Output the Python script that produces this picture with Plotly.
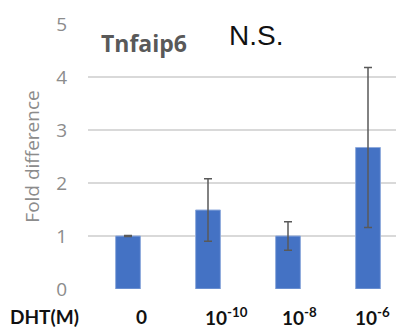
import plotly.graph_objects as go

categories = ["0", "10^-10", "10^-8", "10^-6"]
tick_labels = ["0", "10<sup>-10</sup>", "10<sup>-8</sup>", "10<sup>-6</sup>"]
fold_diff = [1.0, 1.49, 1.0, 2.67]
err = [0.01, 0.59, 0.27, 1.51]
label_shift = [13, -5, -8, -15]
label_anchor = ["center", "left", "left", "left"]

# page body has an 8px default margin; figure is sized to fit the 404x328 window
W, H = 396, 320
ML, MT, MB, MR = 80, 16, 39, 0
PW = W - ML - MR

fig = go.Figure()
fig.add_trace(go.Bar(
    x=categories, y=fold_diff, width=0.31,
    marker=dict(color="#4472C4", line=dict(color="#8FAADC", width=1)),
    error_y=dict(type="data", array=err, visible=True, color="#595959",
                 thickness=1.5, width=4),
))

fig.update_layout(
    width=W, height=H,
    margin=dict(l=ML, r=MR, t=MT, b=MB),
    paper_bgcolor="white", plot_bgcolor="white",
    showlegend=False,
    xaxis=dict(type="category", range=[-0.5, 3.45], showticklabels=False,
               showgrid=False, zeroline=False, showline=False),
    yaxis=dict(range=[0, 5], dtick=1, showgrid=True, gridcolor="#D9D9D9",
               gridwidth=1.5, zeroline=False, showline=False,
               tickfont=dict(family="Open Sans", size=19, color="#8C8C8C"),
               ticklabelstandoff=20,
               title=dict(text="Fold difference", standoff=11,
                          font=dict(family="Open Sans", size=19, color="#8C8C8C"))),
    font=dict(family="Open Sans"),
)

annotations = [
    dict(text="<b>Tnfaip6</b>", xref="paper", yref="paper", x=0.035, y=0.93,
         xanchor="left", yanchor="middle", showarrow=False,
         font=dict(family="Open Sans", size=23, color="#595959")),
    dict(text="N.S.", xref="paper", yref="paper", x=0.44, y=0.955,
         xanchor="left", yanchor="middle", showarrow=False,
         font=dict(family="Liberation Sans", size=28, color="#111111")),
    dict(text="<b>DHT(M)</b>", xref="paper", yref="paper", x=-ML / PW, y=-0.105,
         xanchor="left", yanchor="middle", showarrow=False,
         font=dict(family="Lato", size=19, color="#111111")),
]
for i, (lab, sh, anc) in enumerate(zip(tick_labels, label_shift, label_anchor)):
    annotations.append(dict(text="<b>" + lab + "</b>", xref="x", yref="paper",
                            x=i, y=-0.105, xshift=sh, xanchor=anc,
                            yanchor="middle", showarrow=False,
                            font=dict(family="Lato", size=19, color="#111111")))
fig.update_layout(annotations=annotations)

fig.write_html("out.html")
